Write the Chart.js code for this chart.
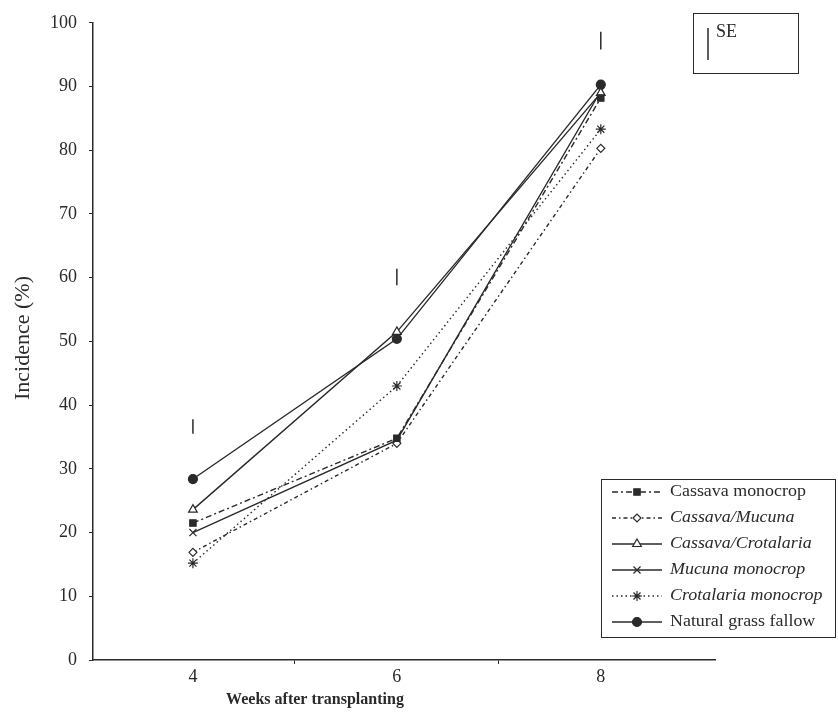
<!DOCTYPE html>
<html>
<head>
<meta charset="utf-8">
<script src="https://cdn.jsdelivr.net/npm/chart.js@4/dist/chart.umd.min.js"></script>
<style>
  html, body { margin: 0; padding: 0; background: #fff; }
  #wrap { width: 838px; height: 716px; }
</style>
</head>
<body>
<div id="wrap"><canvas id="incidenceChart" width="838" height="716"></canvas></div>
<script>
// semanas e valores
const weeks = [4, 6, 8];
const cassavaMono = [21.5, 34.8, 88.2];
const cassavaMucuna = [16.9, 34.0, 80.3];
const cassavaCrot = [23.6, 51.5, 89.0];
const mucunaMono = [20.0, 34.5, 89.3];
const crotMono = [15.2, 43.0, 83.3];
const grassFallow = [28.4, 50.4, 90.3];

// barras de erro padrão (SE) acima de cada semana
const seLow = [35.5, 58.8, 95.8];
const seHigh = [37.8, 61.4, 98.6];

const yTicks = [0, 10, 20, 30, 40, 50, 60, 70, 80, 90, 100];
const xTicks = [4, 5, 6, 7, 8];

const serif = '"Liberation Serif", "DejaVu Serif", serif';
const ink = '#2a2a2a';

function pts(values) {
    return values.map((v, i) => ({ x: weeks[i], y: v }));
}

function serie(label, values, opts) {
    return Object.assign({
        label: label,
        data: pts(values),
        borderColor: ink,
        borderWidth: 1.4,
        pointBorderColor: ink,
        pointBackgroundColor: ink,
        pointRadius: 4,
        pointBorderWidth: 1.2,
        tension: 0,
        fill: false,
        italic: false
    }, opts);
}

const datasets = [
    serie('Cassava monocrop', cassavaMono, { borderDash: [6, 3, 2, 3], pointStyle: 'rect', pointRadius: 4.5 }),
    serie('Cassava/Mucuna', cassavaMucuna, { borderDash: [4, 3, 1.5, 3], pointStyle: 'rectRot', pointBackgroundColor: '#fff', italic: true }),
    serie('Cassava/Crotalaria', cassavaCrot, { pointStyle: 'triangle', pointBackgroundColor: '#fff', pointRadius: 5, italic: true }),
    serie('Mucuna monocrop', mucunaMono, { pointStyle: 'crossRot', pointRadius: 5, italic: true }),
    serie('Crotalaria monocrop', crotMono, { borderDash: [1.5, 3], pointStyle: 'star', pointRadius: 5, italic: true }),
    serie('Natural grass fallow', grassFallow, { pointStyle: 'circle', pointRadius: 4.5 })
];

// desenha SE, legenda e títulos dos eixos
const extras = {
    id: 'extras',
    afterDatasetsDraw(chart) {
        const ctx = chart.ctx;
        const xs = chart.scales.x;
        const ys = chart.scales.y;
        const area = chart.chartArea;

        ctx.save();
        ctx.strokeStyle = ink;
        ctx.lineWidth = 1.5;
        weeks.forEach((w, i) => {
            const px = xs.getPixelForValue(w);
            ctx.beginPath();
            ctx.moveTo(px, ys.getPixelForValue(seLow[i]));
            ctx.lineTo(px, ys.getPixelForValue(seHigh[i]));
            ctx.stroke();
        });

        // caixa do SE
        ctx.lineWidth = 1;
        ctx.strokeRect(693.5, 13.5, 105, 60);
        ctx.lineWidth = 1.5;
        ctx.beginPath();
        ctx.moveTo(708, 28);
        ctx.lineTo(708, 60);
        ctx.stroke();
        ctx.fillStyle = ink;
        ctx.font = '18px ' + serif;
        ctx.textBaseline = 'top';
        ctx.textAlign = 'left';
        ctx.fillText('SE', 716, 23);

        // legenda
        const lx = area.right - 114;
        const ly = area.bottom - 181;
        ctx.lineWidth = 1;
        ctx.strokeRect(lx + 0.5, ly + 0.5, 234, 158);
        chart.data.datasets.forEach((ds, i) => {
            const cy = ly + 13 + 26 * i;
            ctx.lineWidth = ds.borderWidth;
            ctx.strokeStyle = ds.borderColor;
            ctx.setLineDash(ds.borderDash || []);
            ctx.beginPath();
            ctx.moveTo(lx + 11, cy);
            ctx.lineTo(lx + 61, cy);
            ctx.stroke();
            ctx.setLineDash([]);
            ctx.fillStyle = ds.pointBackgroundColor;
            ctx.strokeStyle = ds.pointBorderColor;
            ctx.lineWidth = ds.pointBorderWidth;
            Chart.helpers.drawPoint(ctx, { pointStyle: ds.pointStyle, radius: ds.pointRadius, rotation: 0, borderWidth: ds.pointBorderWidth }, lx + 36, cy);
            ctx.fillStyle = ink;
            ctx.font = (ds.italic ? 'italic ' : '') + '16px ' + serif;
            ctx.textBaseline = 'middle';
            ctx.save();
            ctx.translate(lx + 69, cy);
            ctx.scale(1.12, 1);
            ctx.fillText(ds.label, 0, 0);
            ctx.restore();
        });

        // títulos dos eixos
        ctx.fillStyle = ink;
        ctx.font = 'bold 16px ' + serif;
        ctx.textAlign = 'center';
        ctx.textBaseline = 'middle';
        ctx.fillText('Weeks after transplanting', 315, 700);

        ctx.save();
        ctx.translate(23, 338);
        ctx.rotate(-Math.PI / 2);
        ctx.font = '22px ' + serif;
        ctx.fillText('Incidence (%)', 0, 0);
        ctx.restore();

        ctx.restore();
    }
};

new Chart(document.getElementById('incidenceChart').getContext('2d'), {
    type: 'line',
    data: { datasets: datasets },
    options: {
        responsive: false,
        animation: false,
        layout: { padding: { top: 22, right: 123, left: 0, bottom: 0 } },
        plugins: {
            legend: { display: false },
            tooltip: { enabled: false }
        },
        scales: {
            x: {
                type: 'linear',
                min: 3.02,
                max: 9.12,
                afterBuildTicks: (s) => { s.ticks = xTicks.map(v => ({ value: v })); },
                afterFit: (s) => { s.height = 56; },
                ticks: {
                    color: ink,
                    font: { family: serif, size: 18 },
                    padding: 2,
                    callback: (v) => (v % 2 === 0 ? String(v) : '')
                },
                grid: {
                    drawOnChartArea: false,
                    tickLength: 4,
                    color: (c) => (c.tick && c.tick.value % 2 === 1 ? ink : 'rgba(0,0,0,0)')
                },
                border: { display: true, color: ink, width: 1.5 }
            },
            y: {
                min: 0,
                max: 100,
                afterBuildTicks: (s) => { s.ticks = yTicks.map(v => ({ value: v })); },
                afterFit: (s) => { s.width = 93; },
                ticks: {
                    color: ink,
                    font: { family: serif, size: 18 },
                    padding: 12
                },
                grid: { drawOnChartArea: false, tickLength: 4, color: ink },
                border: { display: true, color: ink, width: 1.5 }
            }
        }
    },
    plugins: [extras]
});
</script>
</body>
</html>
